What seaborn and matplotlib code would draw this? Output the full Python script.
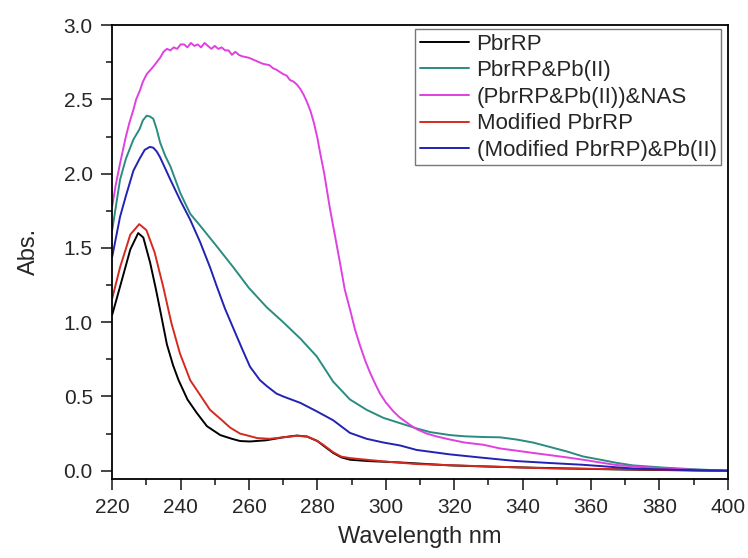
import seaborn as sns
import pandas as pd
import matplotlib
matplotlib.use('Agg')
import matplotlib.pyplot as plt
from matplotlib.ticker import MultipleLocator

# PbrRP
wl_black = [220, 222.3, 225.3, 227.6, 229.1, 231.1, 232.8, 234.2, 236, 237.8, 239.4, 242, 244.7,
            247.7, 251.6, 255, 257.4, 260.3, 265, 270, 274, 277, 280, 281.7, 284.6, 287,
            289.6, 295, 304, 318.8, 330, 340, 350, 360, 370, 380, 390, 400]
abs_black = [1.05, 1.24, 1.49, 1.60, 1.57, 1.40, 1.22, 1.06, 0.85, 0.71, 0.61, 0.48, 0.39,
             0.30, 0.24, 0.215, 0.20, 0.197, 0.205, 0.225, 0.237, 0.23, 0.20, 0.17, 0.12, 0.09,
             0.074, 0.065, 0.056, 0.036, 0.028, 0.022, 0.017, 0.012, 0.008, 0.005, 0.002, 0.0]

# PbrRP&Pb(II)
wl_teal = [220, 222.3, 224, 226.2, 228, 229, 230.1, 231, 232, 233, 234, 235.5, 237, 239.9,
           242.8, 245.7, 250.6, 255.4, 260, 265.2, 270, 275, 279.8, 284.6, 289.5, 294.4,
           299.3, 304.2, 309, 313, 318.8, 323, 328.5, 333.4, 338.3, 343, 348, 352.9, 357.7,
           362.6, 367.5, 372.3, 382, 390, 400]
abs_teal = [1.62, 1.96, 2.10, 2.23, 2.30, 2.36, 2.39, 2.385, 2.37, 2.30, 2.21, 2.12, 2.05, 1.87,
            1.73, 1.65, 1.51, 1.37, 1.23, 1.10, 1.00, 0.89, 0.77, 0.60, 0.48, 0.41,
            0.356, 0.32, 0.285, 0.26, 0.24, 0.232, 0.227, 0.225, 0.21, 0.19, 0.16, 0.13, 0.096,
            0.075, 0.053, 0.036, 0.02, 0.01, 0.0]

# (PbrRP&Pb(II))&NAS
wl_mag = [220, 221, 222.3, 224, 225, 226.2, 227, 228.1, 229, 230.1, 232, 233, 234, 235, 236,
          237, 238, 239, 240, 241, 242, 243, 244, 245, 246, 247, 248, 249, 250, 251, 252, 253,
          254, 255, 256, 257, 258, 260, 262, 264, 266, 267, 268, 270, 271, 272, 273, 274, 275,
          276, 277, 278, 279, 280, 280.8, 282, 283.7, 285, 286.6, 288, 289.6, 291, 292.5, 294,
          295.4, 297, 298.3, 300, 302.2, 304, 307, 309, 312, 315, 318.8, 323, 328.5, 333.4,
          338.3, 343, 348, 352.9, 357.7, 362.6, 367, 372.3, 382, 391.7, 400]
abs_mag = [1.78, 1.92, 2.07, 2.25, 2.34, 2.43, 2.50, 2.56, 2.62, 2.67, 2.72, 2.75, 2.78, 2.82, 2.84,
           2.83, 2.85, 2.84, 2.87, 2.87, 2.85, 2.88, 2.86, 2.87, 2.85, 2.88, 2.86, 2.84, 2.86, 2.84,
           2.85, 2.83, 2.83, 2.80, 2.82, 2.80, 2.79, 2.78, 2.76, 2.74, 2.73, 2.71, 2.70, 2.67,
           2.66, 2.63, 2.62, 2.60, 2.57, 2.53, 2.48, 2.42, 2.34, 2.24, 2.14, 2.00, 1.76, 1.60,
           1.40, 1.22, 1.08, 0.95, 0.84, 0.74, 0.66, 0.58, 0.52, 0.46, 0.40, 0.36, 0.31, 0.28,
           0.25, 0.23, 0.21, 0.19, 0.175, 0.15, 0.135, 0.12, 0.105, 0.09, 0.074, 0.056, 0.04,
           0.029, 0.015, 0.005, 0.0]

# Modified PbrRP
wl_red = [220, 222.3, 225.3, 227.9, 230, 232.4, 234.9, 237.3, 239.8, 242.8, 245.7, 248.6,
          251.6, 254.5, 257.4, 262.4, 266, 270, 274, 277, 280, 281.7, 284.6, 287, 289.6, 299.3,
          309, 328.5, 348, 370, 385, 400]
abs_red = [1.16, 1.37, 1.59, 1.66, 1.62, 1.47, 1.24, 0.995, 0.79, 0.61, 0.51, 0.41,
           0.35, 0.29, 0.25, 0.22, 0.215, 0.225, 0.235, 0.23, 0.20, 0.175, 0.125, 0.095, 0.085,
           0.063, 0.045, 0.03, 0.016, 0.01, 0.005, 0.0]

# (Modified PbrRP)&Pb(II)
wl_blue = [220, 222.3, 224, 226.2, 228, 229.5, 231, 232, 233, 234, 237, 239.9, 242.8, 245.7,
           248.6, 250.6, 253, 255.4, 258, 260.3, 263.2, 265.2, 268, 270, 275, 279.8, 284.6,
           289.5, 294.4, 299.3, 304.2, 309, 318.8, 328.5, 338.3, 348, 357.7, 372.3, 385, 400]
abs_blue = [1.44, 1.71, 1.85, 2.02, 2.10, 2.16, 2.18, 2.175, 2.15, 2.11, 1.96, 1.82, 1.69, 1.54,
            1.37, 1.24, 1.09, 0.96, 0.82, 0.70, 0.61, 0.57, 0.52, 0.50, 0.457, 0.40, 0.34,
            0.255, 0.215, 0.19, 0.17, 0.14, 0.11, 0.087, 0.065, 0.052, 0.04, 0.015, 0.006, 0.0]

series = [
    ("PbrRP", wl_black, abs_black, "#000000"),
    ("PbrRP&Pb(II)", wl_teal, abs_teal, "#2a8c80"),
    ("(PbrRP&Pb(II))&NAS", wl_mag, abs_mag, "#e040e0"),
    ("Modified PbrRP", wl_red, abs_red, "#d42a20"),
    ("(Modified PbrRP)&Pb(II)", wl_blue, abs_blue, "#2222b4"),
]

sns.set_style("ticks")
plt.rcParams['font.family'] = ['Liberation Sans', 'DejaVu Sans']

fig = plt.figure(figsize=(7.48, 5.58), dpi=100)
ax = fig.add_axes([0.150, 0.142, 0.823, 0.813])

for name, x, y, c in series:
    df = pd.DataFrame({"Wavelength": x, "Abs": y})
    sns.lineplot(data=df, x="Wavelength", y="Abs", color=c, linewidth=1.4, label=name, ax=ax)

ax.set_xlim(220, 400)
ax.set_ylim(-0.054, 3.0)
ax.xaxis.set_major_locator(MultipleLocator(20))
ax.xaxis.set_minor_locator(MultipleLocator(10))
ax.yaxis.set_major_locator(MultipleLocator(0.5))
ax.yaxis.set_minor_locator(MultipleLocator(0.25))
ax.yaxis.set_major_formatter(matplotlib.ticker.FormatStrFormatter('%.1f'))
ax.tick_params(which='major', direction='out', length=8, width=1.2, labelsize=15, pad=6,
               top=False, right=False)
ax.tick_params(which='minor', direction='out', length=4, width=1.2, top=False, right=False)
for s in ax.spines.values():
    s.set_linewidth(1.3)
    s.set_color('black')

ax.set_xlabel("Wavelength nm", fontsize=17, labelpad=6)
ax.set_ylabel("Abs.", fontsize=17, labelpad=17)

leg = ax.legend(loc='upper right', bbox_to_anchor=(0.989, 0.991), fontsize=16,
                frameon=True, fancybox=False, edgecolor='#777777', framealpha=1,
                handlelength=2.2, handletextpad=0.35, labelspacing=0.25,
                borderpad=0.2, borderaxespad=0)
leg.get_frame().set_linewidth(1.0)

fig.savefig("out.png", dpi=100)
